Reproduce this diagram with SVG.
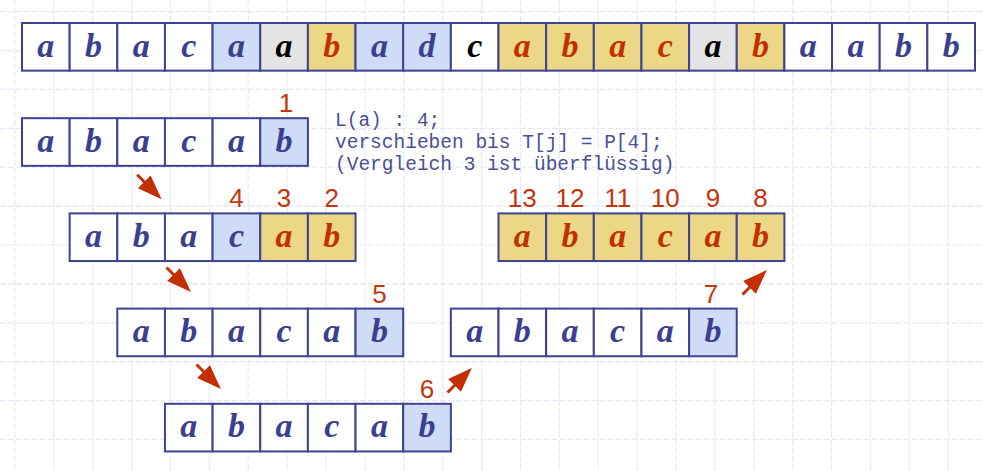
<svg xmlns="http://www.w3.org/2000/svg" xmlns:xlink="http://www.w3.org/1999/xlink" width="983" height="471" viewBox="0 0 983 471">
<style>
.grid{fill:none;stroke:#e4e8f8;stroke-width:1.2;stroke-dasharray:6 2}
.w,.b,.y,.g{stroke:#3e4391;stroke-width:2}
.w{fill:#ffffff}.b{fill:#cfdcf8}.y{fill:#ebd786}.g{fill:#e4e4e4}
.l{font-family:"Liberation Serif","Times New Roman",serif;font-weight:bold;font-style:italic;font-size:34px;text-anchor:middle}
.tb{fill:#3b3f8f}.tr{fill:#c13100}.tk{fill:#000000}
.n{font-family:"Liberation Sans",Arial,sans-serif;font-size:26px;fill:#c3360e;text-anchor:middle}
.m{font-family:"Liberation Mono","Courier New",monospace;font-size:19.5px;fill:#4a4e97}
.arr{fill:#c32f00;stroke:#c32f00}
</style>
<defs>
<g id="arrow" class="arr"><line x1="0" y1="0" x2="12" y2="0" stroke-width="3"/><polygon points="10,-9 34.5,0 10,9" stroke="none"/></g>
</defs>
<rect width="983" height="471" fill="#ffffff"/>
<path class="grid" d="M15 0V471M53.89 0V471M92.77 0V471M131.66 0V471M170.54 0V471M209.43 0V471M248.31 0V471M287.2 0V471M326.08 0V471M364.97 0V471M403.85 0V471M442.74 0V471M481.62 0V471M520.51 0V471M559.39 0V471M598.28 0V471M637.16 0V471M676.05 0V471M714.93 0V471M753.82 0V471M792.7 0V471M831.59 0V471M870.47 0V471M909.36 0V471M948.24 0V471M0 11.7H983M0 50.59H983M0 89.47H983M0 128.36H983M0 167.24H983M0 206.13H983M0 245.01H983M0 283.9H983M0 322.78H983M0 361.67H983M0 400.55H983M0 439.44H983"/>

<g id="text-row">
<rect class="w" x="22" y="23" width="47.65" height="47.65"/><text class="l tb" x="45.83" y="56.5">a</text>
<rect class="w" x="69.65" y="23" width="47.65" height="47.65"/><text class="l tb" x="93.48" y="56.5">b</text>
<rect class="w" x="117.3" y="23" width="47.65" height="47.65"/><text class="l tb" x="141.13" y="56.5">a</text>
<rect class="w" x="164.95" y="23" width="47.65" height="47.65"/><text class="l tb" x="188.78" y="56.5">c</text>
<rect class="b" x="212.6" y="23" width="47.65" height="47.65"/><text class="l tb" x="236.43" y="56.5">a</text>
<rect class="g" x="260.25" y="23" width="47.65" height="47.65"/><text class="l tk" x="284.08" y="56.5">a</text>
<rect class="y" x="307.9" y="23" width="47.65" height="47.65"/><text class="l tr" x="331.73" y="56.5">b</text>
<rect class="b" x="355.55" y="23" width="47.65" height="47.65"/><text class="l tb" x="379.38" y="56.5">a</text>
<rect class="b" x="403.2" y="23" width="47.65" height="47.65"/><text class="l tb" x="427.03" y="56.5">d</text>
<rect class="w" x="450.85" y="23" width="47.65" height="47.65"/><text class="l tk" x="474.68" y="56.5">c</text>
<rect class="y" x="498.5" y="23" width="47.65" height="47.65"/><text class="l tr" x="522.33" y="56.5">a</text>
<rect class="y" x="546.15" y="23" width="47.65" height="47.65"/><text class="l tr" x="569.98" y="56.5">b</text>
<rect class="y" x="593.8" y="23" width="47.65" height="47.65"/><text class="l tr" x="617.63" y="56.5">a</text>
<rect class="y" x="641.45" y="23" width="47.65" height="47.65"/><text class="l tr" x="665.28" y="56.5">c</text>
<rect class="g" x="689.1" y="23" width="47.65" height="47.65"/><text class="l tk" x="712.93" y="56.5">a</text>
<rect class="y" x="736.75" y="23" width="47.65" height="47.65"/><text class="l tr" x="760.58" y="56.5">b</text>
<rect class="w" x="784.4" y="23" width="47.65" height="47.65"/><text class="l tb" x="808.23" y="56.5">a</text>
<rect class="w" x="832.05" y="23" width="47.65" height="47.65"/><text class="l tb" x="855.88" y="56.5">a</text>
<rect class="w" x="879.7" y="23" width="47.65" height="47.65"/><text class="l tb" x="903.53" y="56.5">b</text>
<rect class="w" x="927.35" y="23" width="47.65" height="47.65"/><text class="l tb" x="951.18" y="56.5">b</text>
</g>

<g id="pattern-1">
<rect class="w" x="22" y="118.2" width="47.65" height="47.65"/><text class="l tb" x="45.83" y="151.7">a</text>
<rect class="w" x="69.65" y="118.2" width="47.65" height="47.65"/><text class="l tb" x="93.48" y="151.7">b</text>
<rect class="w" x="117.3" y="118.2" width="47.65" height="47.65"/><text class="l tb" x="141.13" y="151.7">a</text>
<rect class="w" x="164.95" y="118.2" width="47.65" height="47.65"/><text class="l tb" x="188.78" y="151.7">c</text>
<rect class="w" x="212.6" y="118.2" width="47.65" height="47.65"/><text class="l tb" x="236.43" y="151.7">a</text>
<rect class="b" x="260.25" y="118.2" width="47.65" height="47.65"/><text class="l tb" x="284.08" y="151.7">b</text>
<text class="n" x="286" y="112">1</text>
</g>

<g id="note">
<text class="m" x="335" y="126">L(a) : 4;</text>
<text class="m" x="335" y="148">verschieben bis T[j] = P[4];</text>
<text class="m" x="335" y="170">(Vergleich 3 ist überflüssig)</text>
</g>

<g id="pattern-2">
<rect class="w" x="69.65" y="213.4" width="47.65" height="47.65"/><text class="l tb" x="93.48" y="246.9">a</text>
<rect class="w" x="117.3" y="213.4" width="47.65" height="47.65"/><text class="l tb" x="141.13" y="246.9">b</text>
<rect class="w" x="164.95" y="213.4" width="47.65" height="47.65"/><text class="l tb" x="188.78" y="246.9">a</text>
<rect class="b" x="212.6" y="213.4" width="47.65" height="47.65"/><text class="l tb" x="236.43" y="246.9">c</text>
<rect class="y" x="260.25" y="213.4" width="47.65" height="47.65"/><text class="l tr" x="284.08" y="246.9">a</text>
<rect class="y" x="307.9" y="213.4" width="47.65" height="47.65"/><text class="l tr" x="331.73" y="246.9">b</text>
<text class="n" x="236.43" y="207">4</text>
<text class="n" x="284.08" y="207">3</text>
<text class="n" x="331.73" y="207">2</text>
</g>

<g id="pattern-3">
<rect class="w" x="117.3" y="308.6" width="47.65" height="47.65"/><text class="l tb" x="141.13" y="342.1">a</text>
<rect class="w" x="164.95" y="308.6" width="47.65" height="47.65"/><text class="l tb" x="188.78" y="342.1">b</text>
<rect class="w" x="212.6" y="308.6" width="47.65" height="47.65"/><text class="l tb" x="236.43" y="342.1">a</text>
<rect class="w" x="260.25" y="308.6" width="47.65" height="47.65"/><text class="l tb" x="284.08" y="342.1">c</text>
<rect class="w" x="307.9" y="308.6" width="47.65" height="47.65"/><text class="l tb" x="331.73" y="342.1">a</text>
<rect class="b" x="355.55" y="308.6" width="47.65" height="47.65"/><text class="l tb" x="379.38" y="342.1">b</text>
<text class="n" x="379.38" y="302.6">5</text>
</g>

<g id="pattern-4">
<rect class="w" x="164.95" y="403.8" width="47.65" height="47.65"/><text class="l tb" x="188.78" y="437.3">a</text>
<rect class="w" x="212.6" y="403.8" width="47.65" height="47.65"/><text class="l tb" x="236.43" y="437.3">b</text>
<rect class="w" x="260.25" y="403.8" width="47.65" height="47.65"/><text class="l tb" x="284.08" y="437.3">a</text>
<rect class="w" x="307.9" y="403.8" width="47.65" height="47.65"/><text class="l tb" x="331.73" y="437.3">c</text>
<rect class="w" x="355.55" y="403.8" width="47.65" height="47.65"/><text class="l tb" x="379.38" y="437.3">a</text>
<rect class="b" x="403.2" y="403.8" width="47.65" height="47.65"/><text class="l tb" x="427.03" y="437.3">b</text>
<text class="n" x="427.03" y="397.8">6</text>
</g>

<g id="pattern-5">
<rect class="w" x="450.85" y="308.6" width="47.65" height="47.65"/><text class="l tb" x="474.68" y="342.1">a</text>
<rect class="w" x="498.5" y="308.6" width="47.65" height="47.65"/><text class="l tb" x="522.33" y="342.1">b</text>
<rect class="w" x="546.15" y="308.6" width="47.65" height="47.65"/><text class="l tb" x="569.98" y="342.1">a</text>
<rect class="w" x="593.8" y="308.6" width="47.65" height="47.65"/><text class="l tb" x="617.63" y="342.1">c</text>
<rect class="w" x="641.45" y="308.6" width="47.65" height="47.65"/><text class="l tb" x="665.28" y="342.1">a</text>
<rect class="b" x="689.1" y="308.6" width="47.65" height="47.65"/><text class="l tb" x="712.93" y="342.1">b</text>
<text class="n" x="711" y="302.6">7</text>
</g>

<g id="pattern-6">
<rect class="y" x="498.5" y="213.4" width="47.65" height="47.65"/><text class="l tr" x="522.33" y="246.9">a</text>
<rect class="y" x="546.15" y="213.4" width="47.65" height="47.65"/><text class="l tr" x="569.98" y="246.9">b</text>
<rect class="y" x="593.8" y="213.4" width="47.65" height="47.65"/><text class="l tr" x="617.63" y="246.9">a</text>
<rect class="y" x="641.45" y="213.4" width="47.65" height="47.65"/><text class="l tr" x="665.28" y="246.9">c</text>
<rect class="y" x="689.1" y="213.4" width="47.65" height="47.65"/><text class="l tr" x="712.93" y="246.9">a</text>
<rect class="y" x="736.75" y="213.4" width="47.65" height="47.65"/><text class="l tr" x="760.58" y="246.9">b</text>
<text class="n" x="522.33" y="207">13</text>
<text class="n" x="569.98" y="207">12</text>
<text class="n" x="617.63" y="207">11</text>
<text class="n" x="665.28" y="207">10</text>
<text class="n" x="712.93" y="207">9</text>
<text class="n" x="760.58" y="207">8</text>
</g>

<g id="connectors">
<use xlink:href="#arrow" transform="translate(137.2,174.8) rotate(45)"/>
<use xlink:href="#arrow" transform="translate(166.5,267.5) rotate(45)"/>
<use xlink:href="#arrow" transform="translate(196.5,364.5) rotate(45)"/>
<use xlink:href="#arrow" transform="translate(447.5,392.5) rotate(-45)"/>
<use xlink:href="#arrow" transform="translate(742.5,294.5) rotate(-45)"/>
</g>
</svg>
